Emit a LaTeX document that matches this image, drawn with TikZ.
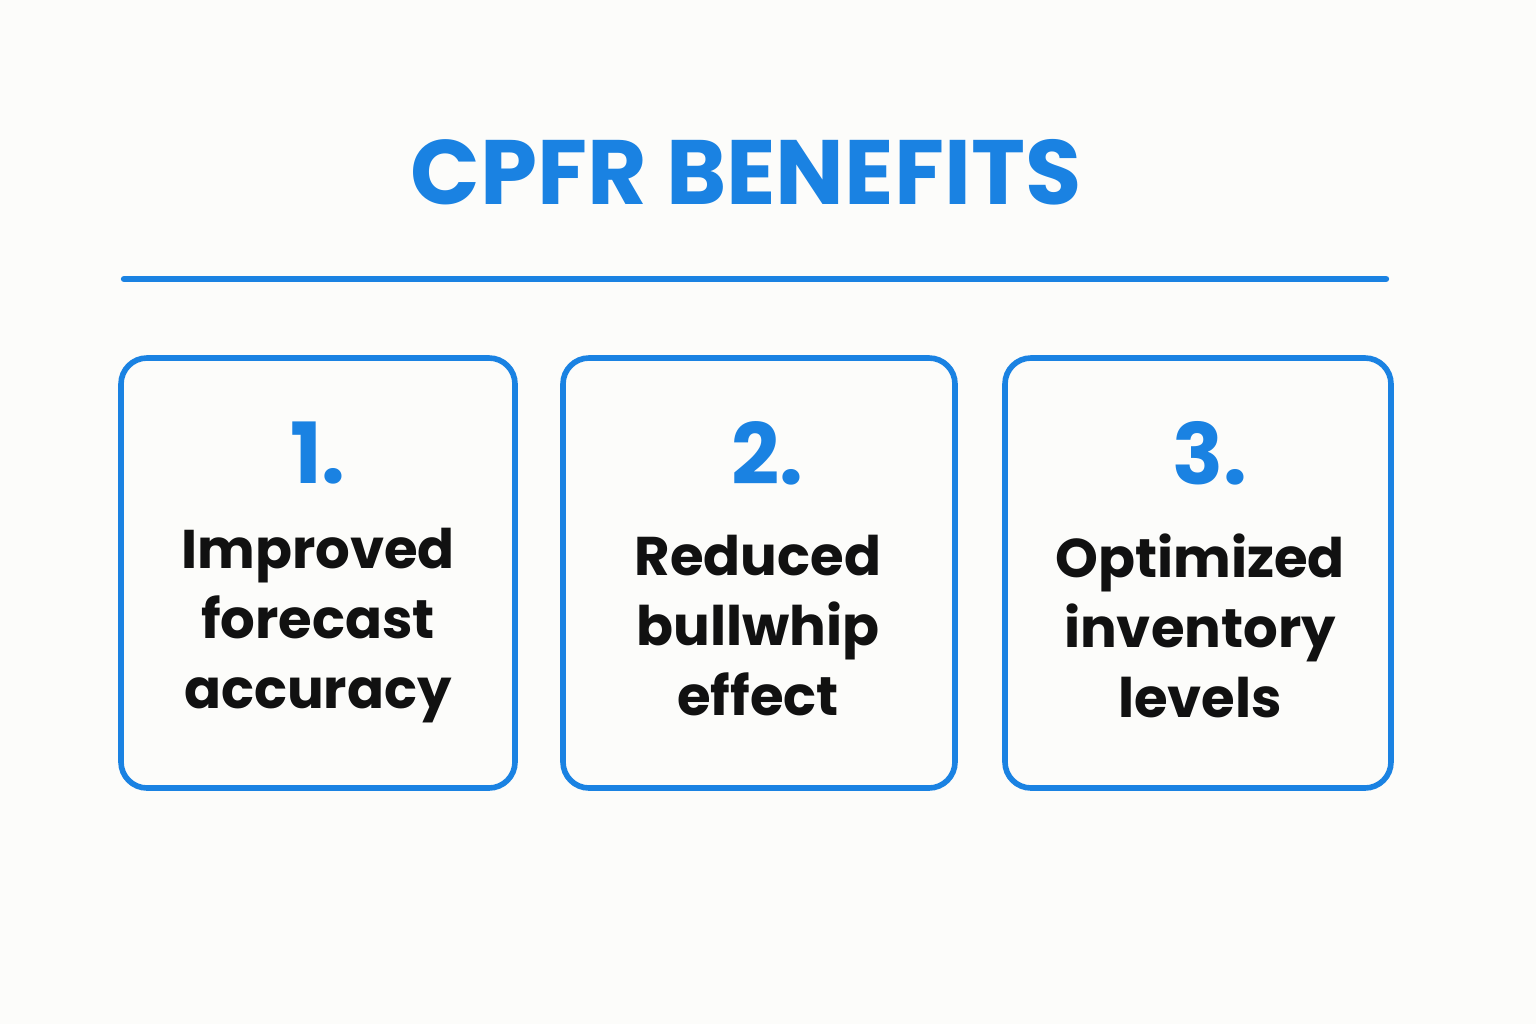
\documentclass[tikz,border=0pt]{standalone}
\usepackage{fontspec}
\setmainfont{Poppins}
\definecolor{cblue}{HTML}{1A82E2}
\definecolor{cink}{HTML}{111111}
\definecolor{cbg}{HTML}{FCFCFA}
\begin{document}
\begin{tikzpicture}[x=0.01cm,y=-0.01cm,
  card/.style={draw=cblue,line width=1.6pt,rounded corners=0.26cm},
  num/.style={text=cblue,font=\fontsize{24}{24}\selectfont\bfseries},
  body/.style={text=cink,align=center,font=\fontsize{15.5}{19.9}\selectfont\bfseries}]
\fill[cbg] (0,0) rectangle (1536,1024);
\useasboundingbox (0,0) rectangle (1536,1024);
\node[text=cblue,font=\fontsize{26}{26}\selectfont\bfseries] (title) at (746,172) {CPFR BENEFITS};
\coordinate (la) at (124,279); \coordinate (lb) at (1386,279);
\draw[cblue,line width=1.8pt,line cap=round] (la) -- (lb);
\draw[card] (121,358) rectangle (515,788);
\draw[card] (563,358) rectangle (955,788);
\draw[card] (1005,358) rectangle (1391,788);
\node[num] (n1) at (318,453) {1.};
\node[num] (n2) at (767,453) {2.};
\node[num] (n3) at (1210,453) {3.};
\node[body] (t1) at (318,626) {Improved\\forecast\\accuracy};
\node[body] (t2) at (758,626) {Reduced\\bullwhip\\effect};
\node[body] (t3) at (1200,626) {Optimized\\inventory\\levels};
\end{tikzpicture}
\end{document}
